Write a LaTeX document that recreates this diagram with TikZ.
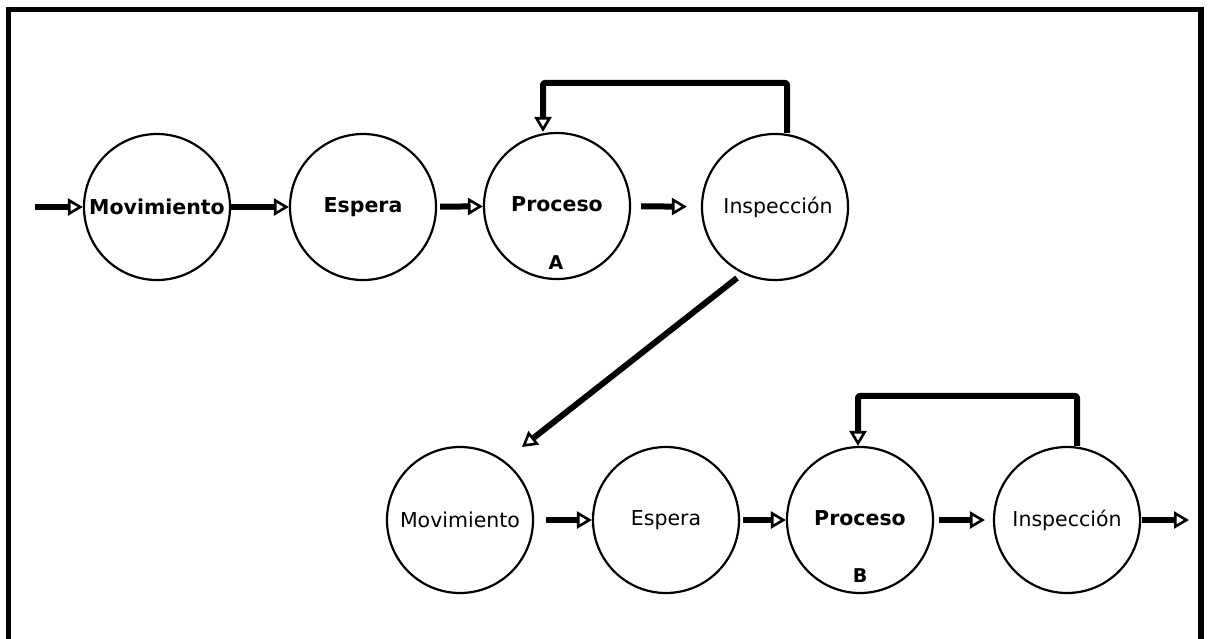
\documentclass[tikz,border=0pt]{standalone}
\usepackage{fontspec}
\setmainfont{DejaVu Sans}
\usetikzlibrary{arrows.meta}

\tikzset{
  stage/.style={draw, circle, minimum size=146pt, inner sep=0pt, line width=2.2pt,
                font=\fontsize{20.5}{24}\selectfont},
  boldstage/.style={stage, font=\fontsize{20.5}{24}\selectfont\bfseries},
  flow/.style={line width=6pt,
               -{Triangle[open, length=15pt, width=17pt, line width=2.6pt]}},
  back/.style={flow, line join=round, rounded corners=2pt},
  tag/.style={font=\fontsize{19}{22}\selectfont\bfseries},
  frame/.style={line width=5.5pt, line join=miter}
}

\begin{document}
\begin{tikzpicture}[x=1pt, y=-1pt]
  \useasboundingbox (0,0) rectangle (1209,638);
  \draw[frame] (8.5,645) -- (8.5,9.5) -- (1201,9.5) -- (1201,645);

  % first line of stages
  \node[boldstage] (M1) at (157,207) {Movimiento};
  \node[boldstage] (E1) at (363,207) {Espera\vphantom{Mp}};
  \node[boldstage] (P1) at (557,206) {Proceso\vphantom{Mp}};
  \node[stage]     (I1) at (775,207) {\hspace{6pt}Inspección};
  \node[tag] (A) at (556,263) {A};

  % second line of stages
  \node[stage]     (M2) at (460,520) {Movimiento};
  \node[stage]     (E2) at (666,520) {Espera\vphantom{Mp}};
  \node[boldstage] (P2) at (860,520) {Proceso\vphantom{Mp}};
  \node[stage]     (I2) at (1067,520) {Inspección\hspace{16pt}};
  \node[tag] (B) at (860,576) {B};

  \coordinate (in)  at (35,207);
  \coordinate (out) at (1189,520);

  % straight flows
  \draw[flow] (in) -- (M1);
  \draw[flow, shorten >=0pt] (M1) -- (E1);
  \draw[flow, shorten <=3pt] (E1) -- (P1);
  \draw[flow, shorten <=10pt, shorten >=14pt] (P1) -- (I1);

  \draw[flow, shorten <=12pt] (M2) -- (E2);
  \draw[flow, shorten <=3pt] (E2) -- (P2);
  \draw[flow, shorten <=5pt, shorten >=8pt] (P2) -- (I2);
  \draw[flow, shorten <=1pt] (I2) -- (out);

  % rework loops
  \draw[back] ([xshift=12pt]I1.north) -- ++(0,-50) -| ([xshift=-14pt]P1.north);
  \draw[back] ([xshift=10pt]I2.north) -- ++(0,-50) -| ([xshift=-2pt]P2.north);

  % hand-over from the first line to the second
  \coordinate (d0) at (737,278);
  \coordinate (d1) at (522,447);
  \draw[flow] (d0) -- (d1);
\end{tikzpicture}
\end{document}
